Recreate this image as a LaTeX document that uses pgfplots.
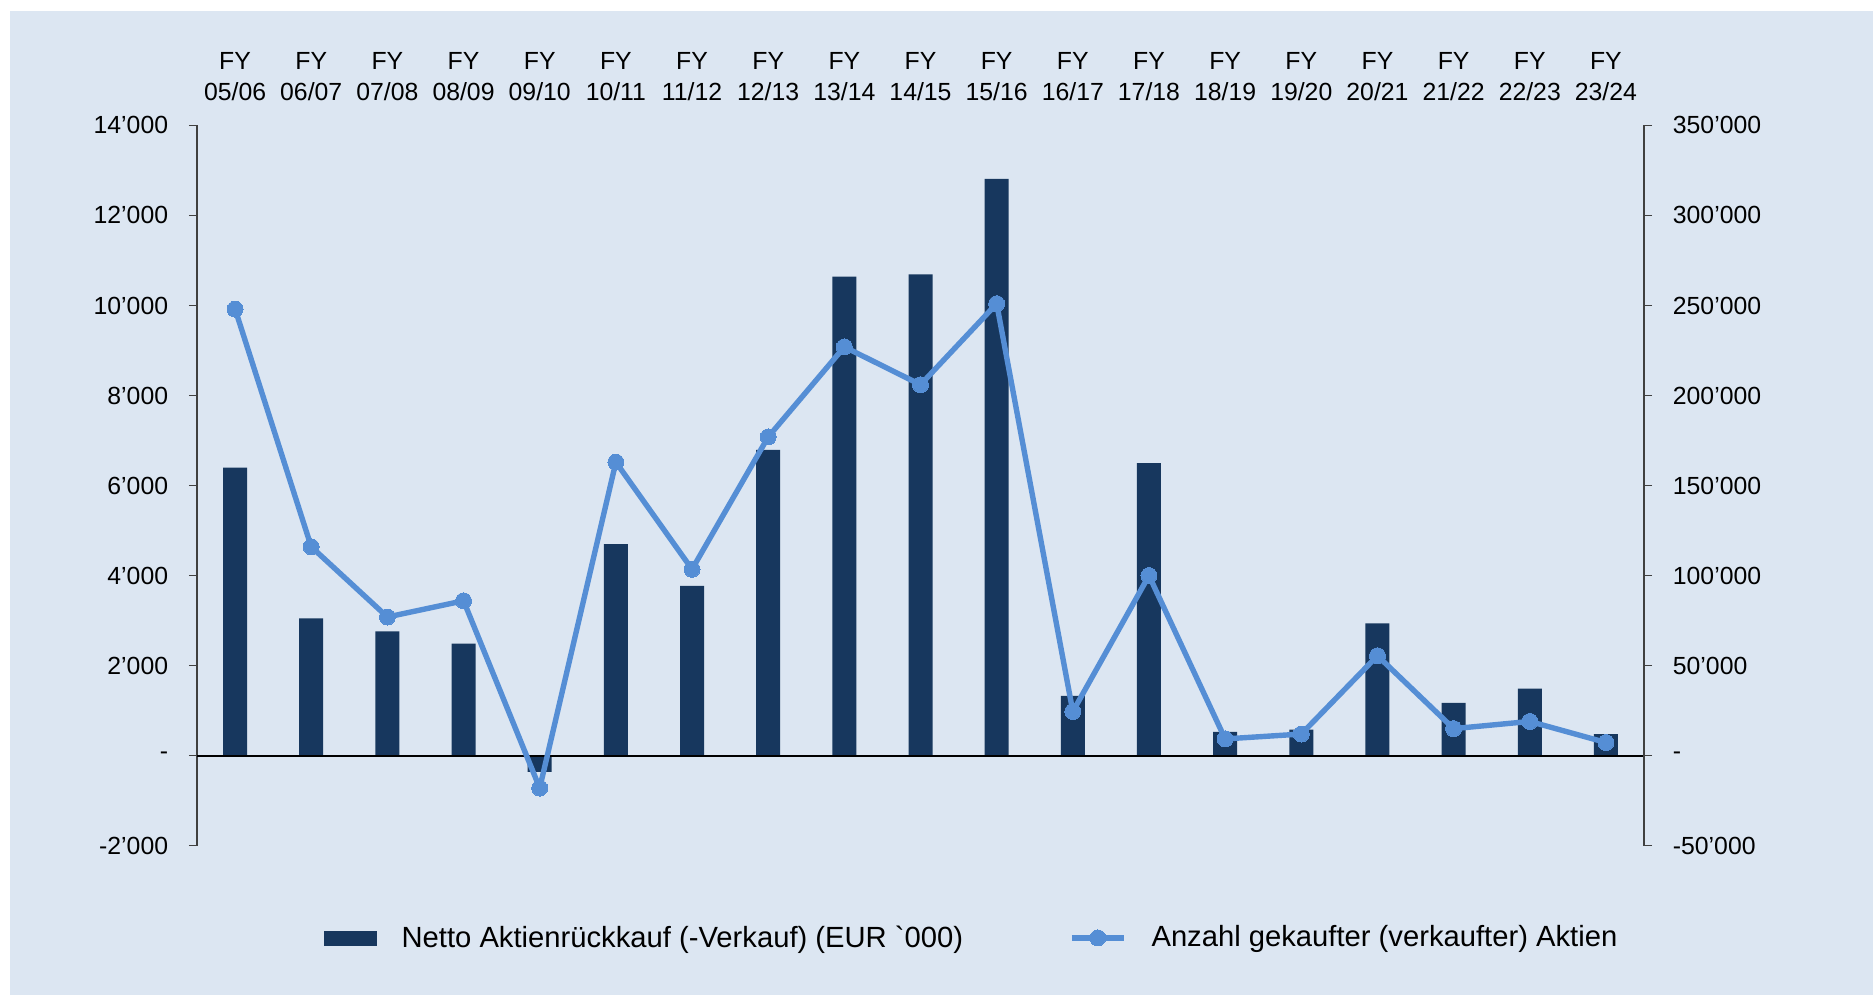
\documentclass[border=0pt]{standalone}
\usepackage{fontspec}
\setmainfont{Liberation Sans}[Ligatures=TeXOff]
\usepackage{pgfplots}
\pgfplotsset{compat=1.18}
\definecolor{bg}{RGB}{220,230,242}
\definecolor{navy}{RGB}{23,55,94}
\definecolor{lineblue}{RGB}{85,142,213}
\definecolor{axgray}{RGB}{64,64,64}
\pgfplotsset{
  common/.style={
    at={(98.5pt,74.65pt)}, anchor=south west,
    scale only axis, width=723.5pt, height=360.15pt,
    xmin=-0.5, xmax=18.5,
    tick align=outside, major tick length=4pt,
    tick label style={font=\fontsize{12.4}{15.5}\selectfont},
    y axis line style={draw=axgray, line width=0.75pt},
    ytick style={draw=axgray, line width=0.75pt},
    scaled y ticks=false,
  },
  mylinelegend/.style={legend image code/.code={\draw[mark repeat=2,mark phase=2,##1] plot coordinates {(0pt,0pt) (13pt,0pt) (26pt,0pt)};}},
  mybarlegend/.style={legend image code/.code={\fill[navy] (0pt,-3.5pt) rectangle (26pt,3.5pt);}},
}
\begin{document}
\begin{tikzpicture}
\fill[white] (0,0) rectangle (936.5pt,497.5pt);
\fill[bg] (5pt,0) rectangle (936.5pt,492pt);
\begin{axis}[common,
  ymin=-2000, ymax=14000,
  axis y line*=left, axis x line*=top,
  x axis line style={draw=none},
  xtick={0,...,18}, xtick style={draw=none},
  xticklabels={{FY\\05/06},{FY\\06/07},{FY\\07/08},{FY\\08/09},{FY\\09/10},{FY\\10/11},{FY\\11/12},{FY\\12/13},{FY\\13/14},{FY\\14/15},{FY\\15/16},{FY\\16/17},{FY\\17/18},{FY\\18/19},{FY\\19/20},{FY\\20/21},{FY\\21/22},{FY\\22/23},{FY\\23/24}},
  xticklabel style={align=center, yshift=4.8pt},
  ytick={-2000,0,2000,4000,6000,8000,10000,12000,14000},
  yticklabels={-2’000,-,2’000,4’000,6’000,8’000,10’000,12’000,14’000},
  yticklabel style={xshift=-6.9pt},
]
\addplot[ybar, bar width=12pt, fill=navy, draw=none] coordinates {
(0,6400) (1,3050) (2,2760) (3,2490) (4,-360) (5,4700) (6,3770) (7,6790) (8,10640) (9,10690) (10,12810) (11,1330) (12,6500) (13,530) (14,580) (15,2940) (16,1170) (17,1490) (18,480)
};
\draw[black, line width=1pt] (axis cs:-0.5,0) -- (axis cs:18.5,0);
\end{axis}
\begin{axis}[common,
  ymin=-50000, ymax=350000,
  axis y line*=right, axis x line=none,
  ytick={-50000,0,50000,100000,150000,200000,250000,300000,350000},
  yticklabels={-50’000,-,50’000,100’000,150’000,200’000,250’000,300’000,350’000},
  yticklabel style={xshift=6.9pt},
  legend columns=2,
  legend style={at={(0.536,-0.128)}, anchor=center, draw=none, fill=none,
    font=\fontsize{14.6}{17}\selectfont,
    /tikz/every even column/.append style={column sep=51pt},
    /tikz/every odd column/.append style={column sep=10.5pt}},
]
\addlegendimage{mybarlegend}
\addlegendentry{Netto Aktienrückkauf (-Verkauf) (EUR `000)}
\addplot[lineblue, line width=2.7pt, mark=*, mark size=4pt, mark options={fill=lineblue, draw=lineblue, line width=0pt}, mylinelegend] coordinates {
(0,248000) (1,116000) (2,77000) (3,86000) (4,-18000) (5,163000) (6,103500) (7,177000) (8,227000) (9,206000) (10,251000) (11,24500) (12,100000) (13,9300) (14,12000) (15,55500) (16,15000) (17,19000) (18,7300)
};
\addlegendentry{Anzahl gekaufter (verkaufter) Aktien}
\end{axis}
\end{tikzpicture}
\end{document}
